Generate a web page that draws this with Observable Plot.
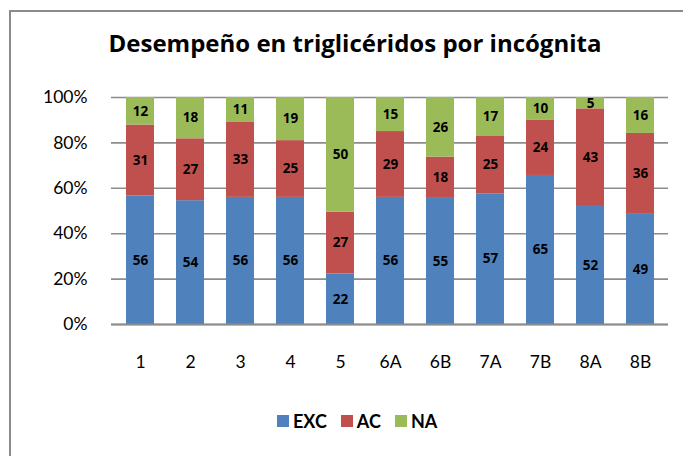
<!DOCTYPE html>
<html>
<head>
<meta charset="utf-8">
<script src="https://cdn.jsdelivr.net/npm/d3@7"></script>
<script src="https://cdn.jsdelivr.net/npm/@observablehq/plot@0.6"></script>
<style>
  html, body { margin: 0; padding: 0; background: #fff; overflow: hidden; }
  body { width: 683px; height: 456px; position: relative; font-family: Lato, "Open Sans", sans-serif; }
  #frame { position: absolute; left: 9px; top: 10px; width: 900px; height: 900px;
           border-left: 2px solid #8a8a8a; border-top: 2px solid #8a8a8a; }
  #title { position: absolute; left: 0; width: 710px; top: 28px; text-align: center;
           font-family: "Open Sans", sans-serif; font-weight: bold; font-size: 24px; color: #000; line-height: 30px; }
  #chart { position: absolute; left: 0; top: 0; }
  #legend { position: absolute; left: 277px; top: 410px; display: flex; align-items: center;
            font-weight: bold; font-size: 18px; color: #000; }
  .item { display: flex; align-items: center; margin-right: 14px; }
  .sw { width: 12px; height: 12px; margin-right: 4px; }
</style>
</head>
<body>
<div id="frame"></div>
<div id="title">Desempeño en triglicéridos por incógnita</div>
<div id="chart"></div>
<div id="legend"></div>
<script>
const categories = ["1", "2", "3", "4", "5", "6A", "6B", "7A", "7B", "8A", "8B"];
const seriesNames = ["EXC", "AC", "NA"];
const excValues = [56, 54, 56, 56, 22, 56, 55, 57, 65, 52, 49];
const acValues  = [31, 27, 33, 25, 27, 29, 18, 25, 24, 43, 36];
const naValues  = [12, 18, 11, 19, 50, 15, 26, 17, 10, 5, 16];
const seriesColors = ["#4F81BD", "#C0504D", "#9BBB59"];
const yTicks = [0, 0.2, 0.4, 0.6, 0.8, 1];

const seriesValues = [excValues, acValues, naValues];
const rows = [];
categories.forEach((c, i) => {
  seriesNames.forEach((s, j) => {
    rows.push({category: c, series: s, value: seriesValues[j][i]});
  });
});

const stackOpts = {x: "category", y: "value", z: "series", offset: "normalize", order: seriesNames};

const chart = Plot.plot({
  width: 683,
  height: 380,
  marginTop: 97,
  marginBottom: 56,
  marginLeft: 111,
  marginRight: 15,
  style: {fontFamily: "Lato, 'Open Sans', sans-serif", fontSize: "17.5px", color: "#000", background: "transparent"},
  x: {domain: categories, paddingInner: 0.44, paddingOuter: 0.22, tickSize: 0, tickPadding: 31, label: null},
  y: {domain: [0, 1], ticks: yTicks, tickFormat: d3.format(".0%"), tickSize: 0, tickPadding: 24, label: null},
  color: {domain: seriesNames, range: seriesColors},
  marks: [
    Plot.gridY(yTicks, {stroke: "#8c8c8c", strokeOpacity: 1, strokeWidth: 1.6}),
    Plot.barY(rows, Plot.stackY({...stackOpts, fill: "series"})),
    Plot.ruleY([0], {stroke: "#8c8c8c", strokeWidth: 2}),
    Plot.text(rows, Plot.stackY({...stackOpts, text: d => String(d.value), fill: "#000",
      fontWeight: "bold", fontSize: 13.5, fontFamily: "'Open Sans', sans-serif"}))
  ]
});
document.getElementById("chart").appendChild(chart);

const legend = document.getElementById("legend");
seriesNames.forEach((s, i) => {
  const item = document.createElement("div");
  item.className = "item";
  const sw = document.createElement("div");
  sw.className = "sw";
  sw.style.background = seriesColors[i];
  const t = document.createElement("span");
  t.textContent = s;
  item.appendChild(sw);
  item.appendChild(t);
  legend.appendChild(item);
});
</script>
</body>
</html>
